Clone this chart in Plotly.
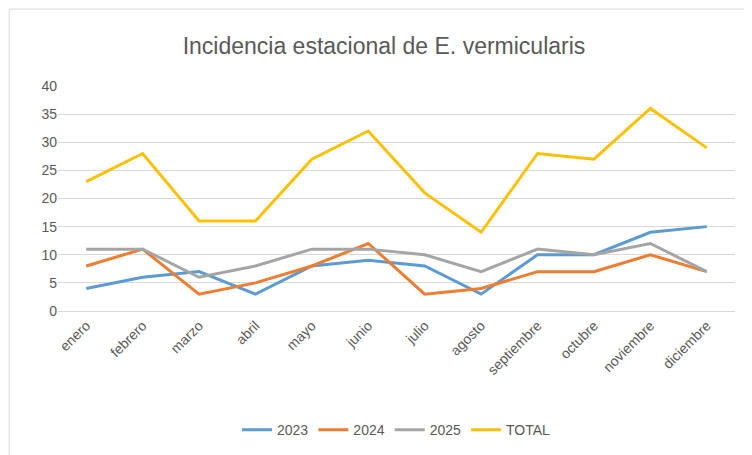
import plotly.graph_objects as go

months = ["enero", "febrero", "marzo", "abril", "mayo", "junio", "julio",
          "agosto", "septiembre", "octubre", "noviembre", "diciembre"]
y2023 = [4, 6, 7, 3, 8, 9, 8, 3, 10, 10, 14, 15]
y2024 = [8, 11, 3, 5, 8, 12, 3, 4, 7, 7, 10, 7]
y2025 = [11, 11, 6, 8, 11, 11, 10, 7, 11, 10, 12, 7]
total = [23, 28, 16, 16, 27, 32, 21, 14, 28, 27, 36, 29]

series = [("2023", y2023, "#5b9bd5"), ("2024", y2024, "#ed7d31"),
          ("2025", y2025, "#a5a5a5"), ("TOTAL", total, "#ffc000")]

fig = go.Figure()
for name, vals, color in series:
    fig.add_trace(go.Scatter(x=months, y=vals, mode="lines", name=name,
                             line=dict(color=color, width=3)))

fig.update_layout(
    width=752, height=455,
    title=dict(text="Incidencia estacional de E. vermicularis", x=0.5, y=0.916,
               xanchor="center", yanchor="middle",
               font=dict(size=23, color="#595959")),
    font=dict(family="Liberation Sans, Arial", size=14, color="#595959"),
    plot_bgcolor="white", paper_bgcolor="white",
    margin=dict(l=50, r=25, t=78, b=152),
    showlegend=True,
    legend=dict(orientation="h", x=0.5, xanchor="center", y=-0.53, yanchor="middle",
                font=dict(size=14, color="#595959")),
    xaxis=dict(tickangle=-45, showgrid=False, showline=True, linecolor="#d9d9d9",
               range=[-0.5, 11.5], ticks="", tickfont=dict(size=14)),
    yaxis=dict(range=[0, 40], dtick=5, showgrid=True, gridcolor="#d9d9d9",
               zeroline=False, ticks="", tickfont=dict(size=14)),
    shapes=[dict(type="rect", xref="paper", yref="paper", x0=-0.072, x1=1.034,
                 y0=-0.667, y1=1.342, line=dict(color="#d9d9d9", width=1))],
)

fig.write_html("out.html")
